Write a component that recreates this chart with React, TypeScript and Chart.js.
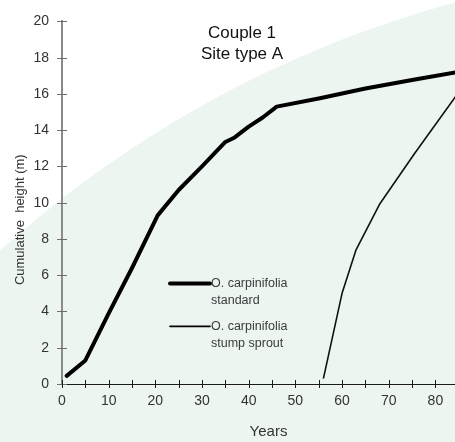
import React, { useEffect, useRef } from "react";
import { Chart, registerables } from "chart.js";

Chart.register(...registerables);

// ---- data ----
const standardYears = [1, 5, 10, 15, 20.5, 25, 30, 35, 37, 40, 43, 46, 55, 65, 75, 85];
const standardHeight = [0.45, 1.3, 3.9, 6.4, 9.3, 10.7, 12.0, 13.35, 13.6, 14.2, 14.7, 15.3, 15.75, 16.3, 16.77, 17.22];
const sproutYears = [56, 60, 63, 68, 75.5, 85];
const sproutHeight = [0.3, 5.0, 7.4, 9.9, 12.7, 16.1];

const xTickValues = [0, 5, 10, 15, 20, 25, 30, 35, 40, 45, 50, 55, 60, 65, 70, 75, 80];
const xLabelValues = [0, 10, 20, 30, 40, 50, 60, 70, 80];

const titleLines = ["Couple 1", "Site type A"];
const legendLabels = [
  ["O. carpinifolia", "standard"],
  ["O. carpinifolia", "stump sprout"],
];
const xTitle = "Years";
const yTitle = "Cumulative  height (m)";

const FONT = "'Liberation Sans', Arial, sans-serif";

const decorPlugin = {
  id: "decor",
  beforeDraw(chart: any) {
    const ctx = chart.ctx;
    ctx.save();
    ctx.fillStyle = "#ffffff";
    ctx.fillRect(0, 0, chart.width, chart.height);
    ctx.fillStyle = "#edf5f0";
    ctx.beginPath();
    ctx.arc(745, 1076, 1112, 0, Math.PI * 2);
    ctx.fill();
    ctx.restore();
  },
  afterDraw(chart: any) {
    const ctx = chart.ctx;
    const xs = chart.scales.x;
    const ys = chart.scales.y;
    const area = chart.chartArea;
    ctx.save();
    // crossing tick marks
    ctx.lineWidth = 1;
    ctx.strokeStyle = "#6e6e6e";
    ys.ticks.forEach((t: any) => {
      const py = Math.round(ys.getPixelForValue(t.value)) + 0.5;
      ctx.beginPath();
      ctx.moveTo(area.left - 5, py);
      ctx.lineTo(area.left + 5, py);
      ctx.stroke();
    });
    ctx.strokeStyle = "#1a1a1a";
    xs.ticks.forEach((t: any) => {
      const px = Math.round(xs.getPixelForValue(t.value)) + 0.5;
      ctx.beginPath();
      ctx.moveTo(px, area.bottom - 4);
      ctx.lineTo(px, area.bottom + 4);
      ctx.stroke();
    });

    // title
    ctx.fillStyle = "#111111";
    ctx.font = `17px ${FONT}`;
    ctx.textAlign = "center";
    ctx.textBaseline = "middle";
    const tx = area.left + 180;
    ctx.fillText(titleLines[0], tx, area.top + 12);
    ctx.fillText(titleLines[1], tx, area.top + 33);

    // legend
    const lx0 = area.left + 108;
    const lx1 = area.left + 148;
    const rows = [area.top + 262, area.top + 305];
    const widths = [4, 1.6];
    ctx.font = `12.5px ${FONT}`;
    ctx.textAlign = "left";
    legendLabels.forEach((lab, i) => {
      ctx.strokeStyle = "#000000";
      ctx.lineWidth = widths[i];
      ctx.lineCap = "round";
      ctx.beginPath();
      ctx.moveTo(lx0, rows[i]);
      ctx.lineTo(lx1, rows[i]);
      ctx.stroke();
      ctx.fillStyle = "#3a3a3a";
      ctx.fillText(lab[0], lx1 + 1, rows[i]);
      ctx.fillText(lab[1], lx1 + 1, rows[i] + 17);
    });

    // axis titles
    ctx.fillStyle = "#333333";
    ctx.font = `15px ${FONT}`;
    ctx.textAlign = "center";
    ctx.fillText(xTitle, (area.left + area.right) / 2 + 10, area.bottom + 48);

    ctx.font = `13px ${FONT}`;
    ctx.translate(20, (area.top + area.bottom) / 2 + 17);
    ctx.rotate(-Math.PI / 2);
    ctx.fillText(yTitle, 0, 0);
    ctx.restore();
  },
};

export default function App() {
  const ref = useRef<HTMLCanvasElement | null>(null);

  useEffect(() => {
    document.body.style.margin = "0";
    const canvas = ref.current;
    if (!canvas) return;
    const chart = new Chart(canvas, {
      type: "line",
      data: {
        datasets: [
          {
            label: "O. carpinifolia standard",
            data: standardYears.map((x, i) => ({ x, y: standardHeight[i] })),
            borderColor: "#000000",
            borderWidth: 4,
            pointRadius: 0,
            tension: 0,
            borderCapStyle: "round",
            borderJoinStyle: "round",
          },
          {
            label: "O. carpinifolia stump sprout",
            data: sproutYears.map((x, i) => ({ x, y: sproutHeight[i] })),
            borderColor: "#111111",
            borderWidth: 1.6,
            pointRadius: 0,
            tension: 0,
            borderJoinStyle: "round",
          },
        ],
      },
      options: {
        animation: false,
        responsive: false,
        devicePixelRatio: 1,
        layout: { padding: { top: 20, left: 0, right: 0, bottom: 0 } },
        plugins: {
          legend: { display: false },
          tooltip: { enabled: false },
          title: { display: false },
        },
        scales: {
          x: {
            type: "linear",
            min: 0,
            max: 84.2,
            afterBuildTicks: (s: any) => {
              s.ticks = xTickValues.map((v) => ({ value: v }));
            },
            afterFit: (s: any) => {
              s.height = 58;
            },
            ticks: {
              autoSkip: false,
              maxRotation: 0,
              padding: 9,
              color: "#333333",
              font: { family: FONT, size: 14 },
              callback: (v: any) => (xLabelValues.includes(Number(v)) ? String(v) : ""),
            },
            grid: { display: false, drawTicks: false },
            border: { display: true, color: "#1a1a1a", width: 1 },
          },
          y: {
            min: 0,
            max: 20,
            afterFit: (s: any) => {
              s.width = 62;
            },
            ticks: {
              stepSize: 2,
              padding: 13,
              color: "#333333",
              font: { family: FONT, size: 14 },
            },
            grid: { display: false, drawTicks: false },
            border: { display: true, color: "#8a8a8a", width: 2 },
          },
        },
      },
      plugins: [decorPlugin],
    });
    return () => chart.destroy();
  }, []);

  return (
    <div style={{ width: 455, height: 442 }}>
      <canvas ref={ref} width={455} height={442} style={{ display: "block" }} />
    </div>
  );
}
